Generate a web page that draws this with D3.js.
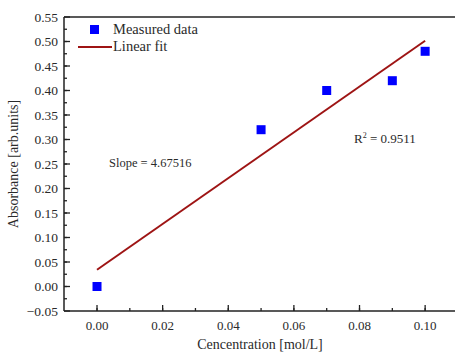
<!DOCTYPE html>
<html>
<head>
<meta charset="utf-8">
<script src="https://cdn.jsdelivr.net/npm/d3@7"></script>
<style>
  body { margin: 0; background: #fff; }
  svg { display: block; font-family: "Liberation Serif", "DejaVu Serif", serif; }
</style>
</head>
<body>
<div id="chart"></div>
<script>
var concentration = [0.00, 0.05, 0.07, 0.09, 0.10];
var absorbance = [0.00, 0.32, 0.40, 0.42, 0.48];
var fitSlope = 4.67516;
var fitIntercept = 0.0341;
var fitRange = [0.00, 0.10];
var xTicks = [0.00, 0.02, 0.04, 0.06, 0.08, 0.10];
var yTicks = [-0.05, 0.00, 0.05, 0.10, 0.15, 0.20, 0.25, 0.30, 0.35, 0.40, 0.45, 0.50, 0.55];

var width = 455, height = 353;
var margin = {top: 17, right: 0, bottom: 42, left: 64};

var svg = d3.select('#chart').append('svg')
  .attr('width', width)
  .attr('height', height);

var x = d3.scaleLinear().domain([-0.01006, 0.1091]).range([margin.left, width]);
var y = d3.scaleLinear().domain([-0.05, 0.55]).range([height - margin.bottom, margin.top]);

var darkRed = '#9e1414';
var ink = '#2a2a2a';

// frame: top line, left and bottom axes
svg.append('line')
  .attr('x1', margin.left).attr('x2', width)
  .attr('y1', y(0.55)).attr('y2', y(0.55))
  .style('stroke', '#222').style('stroke-width', 1.5);

// minor ticks
var xMinor = d3.range(0, 0.1001, 0.01);
var yMinor = d3.range(-0.025, 0.55, 0.025);

var xAxis = svg.append('g')
  .attr('transform', 'translate(0,' + y(-0.05) + ')');
xAxis.append('line')
  .attr('x1', margin.left).attr('x2', width)
  .style('stroke', '#222').style('stroke-width', 1.5);
xAxis.selectAll('.minor').data(xMinor).enter().append('line')
  .attr('x1', function(d) {return x(d);}).attr('x2', function(d) {return x(d);})
  .attr('y1', 0).attr('y2', -3)
  .style('stroke', '#222').style('stroke-width', 1.3);
xAxis.selectAll('.major').data(xTicks).enter().append('line')
  .attr('x1', function(d) {return x(d);}).attr('x2', function(d) {return x(d);})
  .attr('y1', 0).attr('y2', -6)
  .style('stroke', '#222').style('stroke-width', 1.3);
xAxis.selectAll('text').data(xTicks).enter().append('text')
  .attr('x', function(d) {return x(d);})
  .attr('y', 19)
  .attr('text-anchor', 'middle')
  .style('font-size', '13px')
  .style('fill', ink)
  .text(function(d) {return d3.format('.2f')(d);});

var yAxis = svg.append('g')
  .attr('transform', 'translate(' + margin.left + ',0)');
yAxis.append('line')
  .attr('y1', y(-0.05)).attr('y2', y(0.55))
  .style('stroke', '#222').style('stroke-width', 1.5);
yAxis.selectAll('.minor').data(yMinor).enter().append('line')
  .attr('y1', function(d) {return y(d);}).attr('y2', function(d) {return y(d);})
  .attr('x1', 0).attr('x2', 3)
  .style('stroke', '#222').style('stroke-width', 1.3);
yAxis.selectAll('.major').data(yTicks).enter().append('line')
  .attr('y1', function(d) {return y(d);}).attr('y2', function(d) {return y(d);})
  .attr('x1', 0).attr('x2', 6)
  .style('stroke', '#222').style('stroke-width', 1.3);
yAxis.selectAll('text').data(yTicks).enter().append('text')
  .attr('x', -6)
  .attr('y', function(d) {return y(d);})
  .attr('dy', '0.35em')
  .attr('text-anchor', 'end')
  .style('font-size', '13.5px')
  .style('fill', ink)
  .text(function(d) {return d3.format('.2f')(d);});

// axis titles
svg.append('text')
  .attr('transform', 'translate(18,' + ((y(-0.05) + y(0.55)) / 2) + ')rotate(-90)')
  .attr('text-anchor', 'middle')
  .style('font-size', '14px')
  .style('fill', ink)
  .text('Absorbance [arb.units]');

svg.append('text')
  .attr('x', 260)
  .attr('y', 349)
  .attr('text-anchor', 'middle')
  .style('font-size', '14px')
  .style('fill', ink)
  .text('Cencentration [mol/L]');

// fit line
svg.append('line')
  .attr('x1', x(fitRange[0])).attr('y1', y(fitIntercept + fitSlope * fitRange[0]))
  .attr('x2', x(fitRange[1])).attr('y2', y(fitIntercept + fitSlope * fitRange[1]))
  .style('stroke', darkRed).style('stroke-width', 2);

// data points
var pts = concentration.map(function(c, i) {return {x: c, y: absorbance[i]};});
svg.selectAll('.pt').data(pts).enter().append('rect')
  .attr('class', 'pt')
  .attr('x', function(d) {return x(d.x) - 4.5;})
  .attr('y', function(d) {return y(d.y) - 4.5;})
  .attr('width', 9).attr('height', 9)
  .style('fill', '#0000ff');

// legend
var legend = svg.append('g');
legend.append('rect')
  .attr('x', 90).attr('y', 25).attr('width', 9).attr('height', 9)
  .style('fill', '#0000ff');
legend.append('text')
  .attr('x', 113).attr('y', 34)
  .style('font-size', '14.5px').style('fill', ink)
  .text('Measured data');
legend.append('line')
  .attr('x1', 78).attr('x2', 112).attr('y1', 47).attr('y2', 47)
  .style('stroke', darkRed).style('stroke-width', 2);
legend.append('text')
  .attr('x', 113).attr('y', 51)
  .style('font-size', '14.5px').style('fill', ink)
  .text('Linear fit');

// annotations
svg.append('text')
  .attr('x', 109).attr('y', 167)
  .style('font-size', '12.5px').style('fill', ink)
  .text('Slope = ' + fitSlope);

var r2 = svg.append('text')
  .attr('x', 354).attr('y', 143)
  .style('font-size', '13px').style('fill', ink);
r2.append('tspan').text('R');
r2.append('tspan').attr('dy', -5).style('font-size', '8px').text('2');
r2.append('tspan').attr('dy', 5).text(' = 0.9511');
</script>
</body>
</html>
